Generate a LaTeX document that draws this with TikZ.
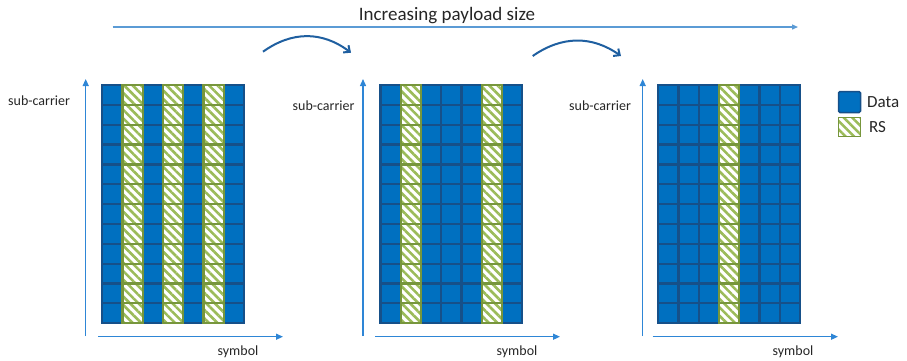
\documentclass[tikz,border=0pt]{standalone}
\usepackage{fontspec}
\setmainfont{Carlito}
\usetikzlibrary{arrows.meta,patterns.meta}
\definecolor{datafill}{HTML}{0070C0}
\definecolor{dataline}{HTML}{165089}
\definecolor{rsline}{HTML}{77963C}
\definecolor{rshatch}{HTML}{9BBB59}
\definecolor{axisblue}{HTML}{2E86D6}
\definecolor{topblue}{HTML}{5B9BD5}
\definecolor{curveblue}{HTML}{1F5FA0}
\definecolor{txt}{HTML}{262626}
\tikzset{
  datacell/.style={fill=datafill, draw=dataline, line width=2.2pt},
  rscell/.style={fill=white, draw=rsline, line width=2.2pt},
  rshatchst/.style={pattern={Lines[angle=-45,distance=6pt,line width=2.6pt]}, pattern color=rshatch},
  axis/.style={draw=axisblue, line width=1.3pt, -{Triangle[length=7pt,width=6pt]}},
  curvearrow/.style={draw=curveblue, line width=2pt, -{Straight Barb[length=5pt,width=9pt]}},
  lbl/.style={inner sep=0pt, text=txt, font=\fontsize{14}{16}\selectfont}
}
\newcommand\drawofdmgrid[2]{%
  \foreach \c in {0,...,6}{\foreach \r in {0,...,11}{
    \path[datacell] ({#1+\c*20.25},{85+\r*19.85}) rectangle ++(20.25,19.85);
  }}
  \foreach \c in {#2}{\foreach \r in {0,...,11}{
    \path[fill=white] ({#1+\c*20.25},{85+\r*19.85}) rectangle ++(20.25,19.85);
    \path[rshatchst] ({#1+\c*20.25},{85+\r*19.85}) rectangle ++(20.25,19.85);
    \draw[rscell,fill=none] ({#1+\c*20.25},{85+\r*19.85}) rectangle ++(20.25,19.85);
  }}
}
\begin{document}
\begin{tikzpicture}[x=1pt,y=-1pt]
\useasboundingbox (0,0) rectangle (907,360);

% title and top arrow
\node[lbl, font=\fontsize{19}{22}\selectfont] (title) at (447,16) {Increasing payload size};
\coordinate (ts) at (112.5,27);
\coordinate (te) at (798,27);
\draw[draw=topblue, line width=1.3pt, -{Triangle[length=6pt,width=5pt]}] (ts) -- (te);

% curved arrows
\coordinate (c1s) at (263,51.7);
\coordinate (c1e) at (351,52.7);
\draw[curvearrow] (c1s) .. controls (292,31) and (322,31) .. (c1e);
\coordinate (c2s) at (532.7,56);
\coordinate (c2e) at (621,56);
\draw[curvearrow] (c2s) .. controls (562,35.6) and (592,35.6) .. (c2e);

% grids
\drawofdmgrid{102.3}{1,3,5}
\drawofdmgrid{380.5}{1,5}
\drawofdmgrid{658.3}{3}

% axes
\coordinate (v1b) at (85.7,336); \coordinate (v1t) at (85.7,79);
\coordinate (h1l) at (98,336.7); \coordinate (h1r) at (283,336.7);
\draw[axis] (v1b) -- (v1t);
\draw[axis] (h1l) -- (h1r);
\coordinate (v2b) at (363,336); \coordinate (v2t) at (363,79);
\coordinate (h2l) at (375,336.7); \coordinate (h2r) at (560,336.7);
\draw[axis] (v2b) -- (v2t);
\draw[axis] (h2l) -- (h2r);
\coordinate (v3b) at (642.7,336); \coordinate (v3t) at (642.7,79);
\coordinate (h3l) at (652.7,336.7); \coordinate (h3r) at (838,336.7);
\draw[axis] (v3b) -- (v3t);
\draw[axis] (h3l) -- (h3r);

% axis labels
\node[lbl, anchor=west] (sc1) at (8,101) {sub-carrier};
\node[lbl, anchor=west] (sc2) at (292.5,106) {sub-carrier};
\node[lbl, anchor=west] (sc3) at (569,106) {sub-carrier};
\node[lbl] (sy1) at (238,352) {symbol};
\node[lbl] (sy2) at (517,352) {symbol};
\node[lbl] (sy3) at (793,352) {symbol};

% legend
\path[fill=datafill, draw=dataline, line width=1.5pt, rounded corners=1.5pt] (838.5,91.5) rectangle (860.5,112.5);
\path[fill=white] (838.5,117.5) rectangle (860.5,136.5);
\path[rshatchst] (838.5,117.5) rectangle (860.5,136.5);
\draw[rscell, fill=none, line width=1.5pt] (838.5,117.5) rectangle (860.5,136.5);
\node[lbl, anchor=west, font=\fontsize{17}{20}\selectfont] (ldata) at (867,102) {Data};
\node[lbl, anchor=west, font=\fontsize{17}{20}\selectfont] (lrs) at (869,127) {RS};
\end{tikzpicture}
\end{document}
